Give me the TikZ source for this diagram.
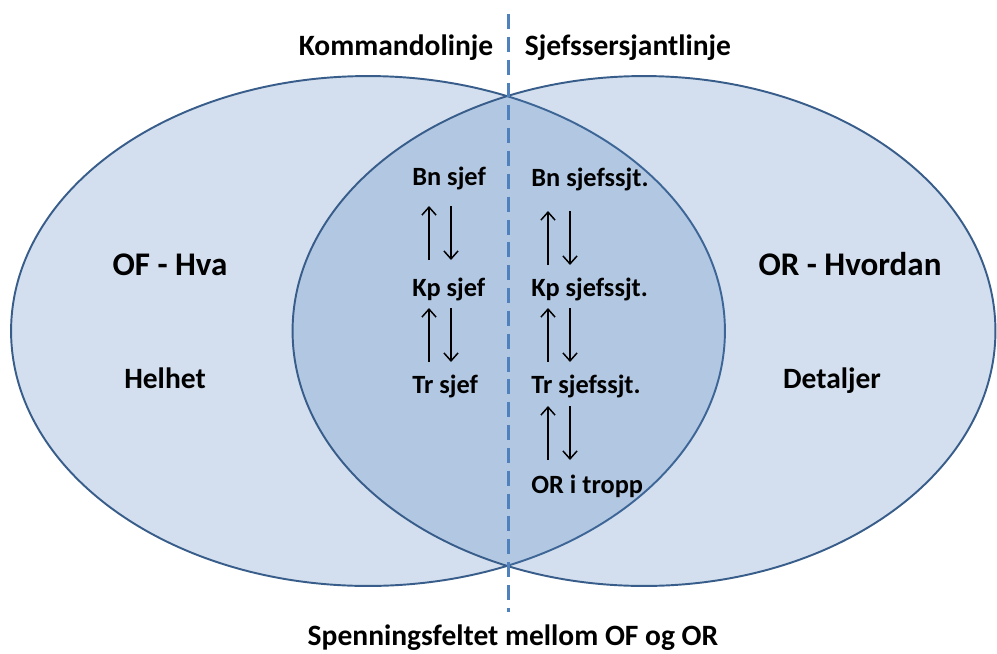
\documentclass[tikz,border=0pt]{standalone}
\usepackage{fontspec}
\setmainfont{Carlito}
\usetikzlibrary{positioning, shapes.geometric, arrows.meta}
\definecolor{vennblue}{HTML}{4F81BD}
\definecolor{vennline}{HTML}{385D8A}

\begin{document}
\begin{tikzpicture}[x=0.02cm, y=-0.02cm,
      venn/.style={ellipse, draw=vennline, line width=1.1pt, fill=vennblue, fill opacity=0.25, inner sep=0pt, minimum height=10.2cm},
      head/.style={font=\bfseries\fontsize{16.8}{20}\selectfont, anchor=base},
      big/.style={font=\bfseries\fontsize{18.8}{22}\selectfont, anchor=base},
      rank/.style={font=\bfseries\fontsize{15}{18}\selectfont, anchor=base west, inner sep=0pt},
      arr/.style={-{Straight Barb[length=4.5pt, width=8pt]}, line width=0.85pt}]
      \useasboundingbox (0,0) rectangle (997,653);
      \node[venn, minimum width=14.28cm] (of) at (368,331) {};
      \node[venn, minimum width=14.06cm] (or) at (644,331) {};
      \coordinate (top) at (508,14);
      \coordinate (bot) at (508,612);
      \draw[vennblue, line width=1.7pt, dash pattern=on 8.5pt off 4.5pt] (top) -- (bot);
      \node[head] (kom) at (396,55)  {Kommandolinje};
      \node[head] (sjt) at (628,55)  {Sjefssersjantlinje};
      \node[head] (spf) at (513,645) {Spenningsfeltet mellom OF og OR};
      \node[big]  (hva) at (170,275) {OF - Hva};
      \node[head] (hel) at (165,388) {Helhet};
      \node[big]  (hvo) at (850,275) {OR - Hvordan};
      \node[head] (det) at (832,388) {Detaljer};
      \node[rank] (bnl) at (412,185) {Bn sjef};
      \node[rank] (kpl) at (412,296) {Kp sjef};
      \node[rank] (trl) at (412,393) {Tr sjef};
      \node[rank] (bnr) at (531,186) {Bn sjefssjt.};
      \node[rank] (kpr) at (531,296) {Kp sjefssjt.};
      \node[rank] (trr) at (531,393) {Tr sjefssjt.};
      \node[rank] (ort) at (531,493) {OR i tropp};
      \foreach \u/\l/\a/\b in {bnl/kpl/21/-36, kpl/trl/12/-31, bnr/kpr/25/-31, kpr/trr/12/-31, trr/ort/13/-33} {
        \draw[arr] ([shift={(17,\b)}]\l.base west) -- ([shift={(17,\a)}]\u.base west);
        \draw[arr] ([shift={(39,\a)}]\u.base west) -- ([shift={(39,\b)}]\l.base west);
      }
    \end{tikzpicture}
\end{document}
